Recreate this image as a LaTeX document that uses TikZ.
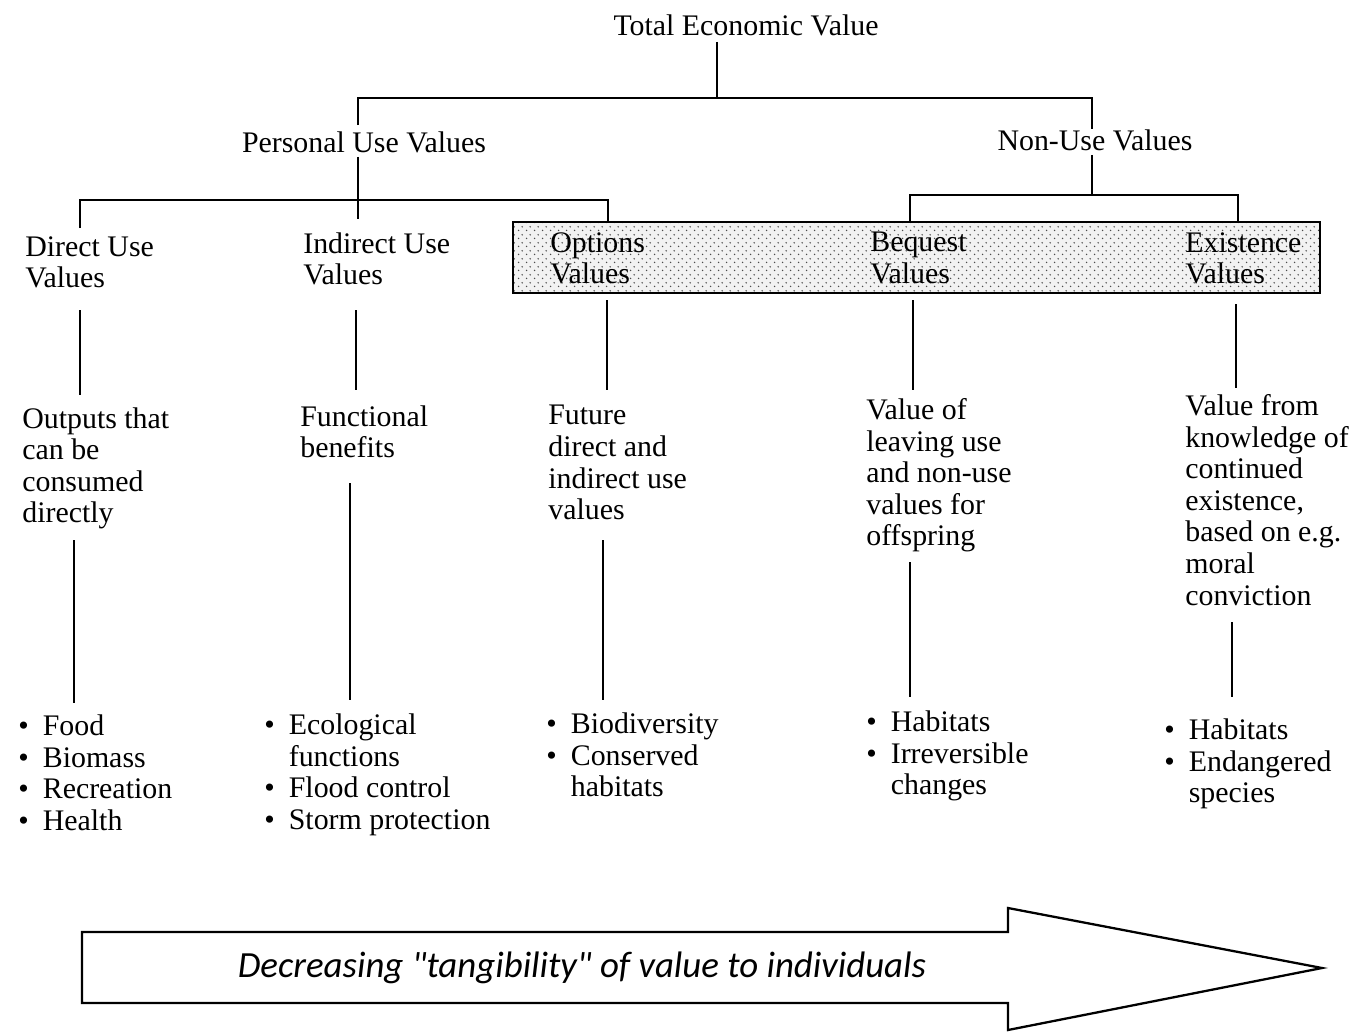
\documentclass[tikz,border=0pt]{standalone}
\usepackage{fontspec}
\setmainfont{Liberation Serif}
\newfontfamily\arrowfont{Carlito}
\usepackage{tikz}
\usetikzlibrary{patterns.meta}
\pgfdeclarelayer{edgelayer}
\pgfdeclarelayer{nodelayer}
\pgfsetlayers{edgelayer,nodelayer,main}
\tikzdeclarepattern{
  name=sparsedots,
  type=uncolored,
  bottom left={(0pt,0pt)},
  top right={(4.6pt,4.6pt)},
  tile size={(4.6pt,4.6pt)},
  code={\fill (1pt,1pt) circle (.5pt); \fill (3.3pt,3.3pt) circle (.5pt);}
}
\tikzstyle{valtext}=[inner sep=0, font=\fontsize{17}{18}\selectfont]
\tikzstyle{valblock}=[valtext, anchor=north west, align=left]
\tikzstyle{link}=[-, draw=black, line width=1.1pt]
\tikzstyle{shadedbox}=[draw=black, line width=1.4pt, preaction={fill=black!5}, pattern=sparsedots, pattern color=black!70]
\tikzstyle{bigarrow}=[draw=black, line width=1.3pt, fill=white]
\newcommand{\blt}{\textbullet}
\newcommand{\bulletlist}[1]{\begin{tabular}{@{}l@{\hspace{8pt}}l@{}}#1\end{tabular}}

\begin{document}
\begin{tikzpicture}[x=0.02cm, y=-0.02cm]
            \useasboundingbox (0, 0) rectangle (1352, 1031);
            \begin{pgfonlayer}{nodelayer}
                \node [style=valtext] (tev) at (746, 25) {Total Economic Value};
                \node [style=valtext] (pers) at (364, 142) {Personal Use Values};
                \node [style=valtext] (nonuse) at (1095, 140) {Non-Use Values};

                \node [style=valblock] (dirv) at (25, 236) {Direct Use\\Values};
                \node [style=valblock] (indv) at (303, 232) {Indirect Use\\Values};
                \node [style=valblock] (optv) at (550, 232) {Options\\Values};
                \node [style=valblock] (beqv) at (870, 232) {Bequest\\Values};
                \node [style=valblock] (exiv) at (1185, 232) {Existence\\Values};

                \node [style=valblock] (outp) at (22, 407) {Outputs that\\can be\\consumed\\directly};
                \node [style=valblock] (func) at (300, 405) {Functional\\benefits};
                \node [style=valblock] (futr) at (548, 405) {Future\\direct and\\indirect use\\values};
                \node [style=valblock] (leav) at (866, 398) {Value of\\leaving use\\and non-use\\values for\\offspring};
                \node [style=valblock] (know) at (1185, 394) {Value from\\knowledge of\\continued\\existence,\\based on e.g.\\moral\\conviction};

                \node [style=valblock] (lst1) at (18, 713) {\bulletlist{\blt & Food\\ \blt & Biomass\\ \blt & Recreation\\ \blt & Health}};
                \node [style=valblock] (lst2) at (264, 712) {\bulletlist{\blt & Ecological\\ & functions\\ \blt & Flood control\\ \blt & Storm protection}};
                \node [style=valblock] (lst3) at (546, 711) {\bulletlist{\blt & Biodiversity\\ \blt & Conserved\\ & habitats}};
                \node [style=valblock] (lst4) at (866, 709) {\bulletlist{\blt & Habitats\\ \blt & Irreversible\\ & changes}};
                \node [style=valblock] (lst5) at (1164, 717) {\bulletlist{\blt & Habitats\\ \blt & Endangered\\ & species}};

                \node [font=\arrowfont\itshape\fontsize{21}{24}\selectfont, inner sep=0] (tang) at (582, 968) {Decreasing "tangibility" of value to individuals};
            \end{pgfonlayer}
            \begin{pgfonlayer}{edgelayer}
                % junctions of the tree
                \coordinate (tj) at (717, 98);
                \coordinate (pj) at (358, 200);
                \coordinate (nj) at (1092, 195);

                \draw [style=link] (tev.south -| tj) ++(0, 6) -- (tj);
                \draw [style=link] (pers.north -| pj) ++(0, -6) |- (tj) -| (nonuse.north -| nj);
                \draw [style=link] (pers.south -| pj) ++(0, 4) -- ++(0, 62);
                \draw [style=link] (80, 228) |- (pj) -| (608, 222);
                \draw [style=link] (nonuse.south -| nj) ++(0, 4) -- (nj);
                \draw [style=link] (910, 222) |- (nj) -| (1238, 222);

                \draw [style=shadedbox] (513, 222) rectangle (1320, 293);

                % level 2 to level 3
                \draw [style=link] (80, 310) -- (80, 395);
                \draw [style=link] (356, 310) -- (356, 390);
                \draw [style=link] (607, 300) -- (607, 390);
                \draw [style=link] (913, 300) -- (913, 390);
                \draw [style=link] (1236, 304) -- (1236, 388);

                % level 3 to lists
                \draw [style=link] (74, 540) -- (74, 703);
                \draw [style=link] (350, 483) -- (350, 700);
                \draw [style=link] (603, 540) -- (603, 700);
                \draw [style=link] (910, 562) -- (910, 697);
                \draw [style=link] (1232, 622) -- (1232, 697);

                \draw [style=bigarrow] (82, 932) -- (1008, 932) -- (1008, 908) -- (1322, 968) -- (1008, 1030) -- (1008, 1003) -- (82, 1003) -- cycle;
            \end{pgfonlayer}
        \end{tikzpicture}
\end{document}
